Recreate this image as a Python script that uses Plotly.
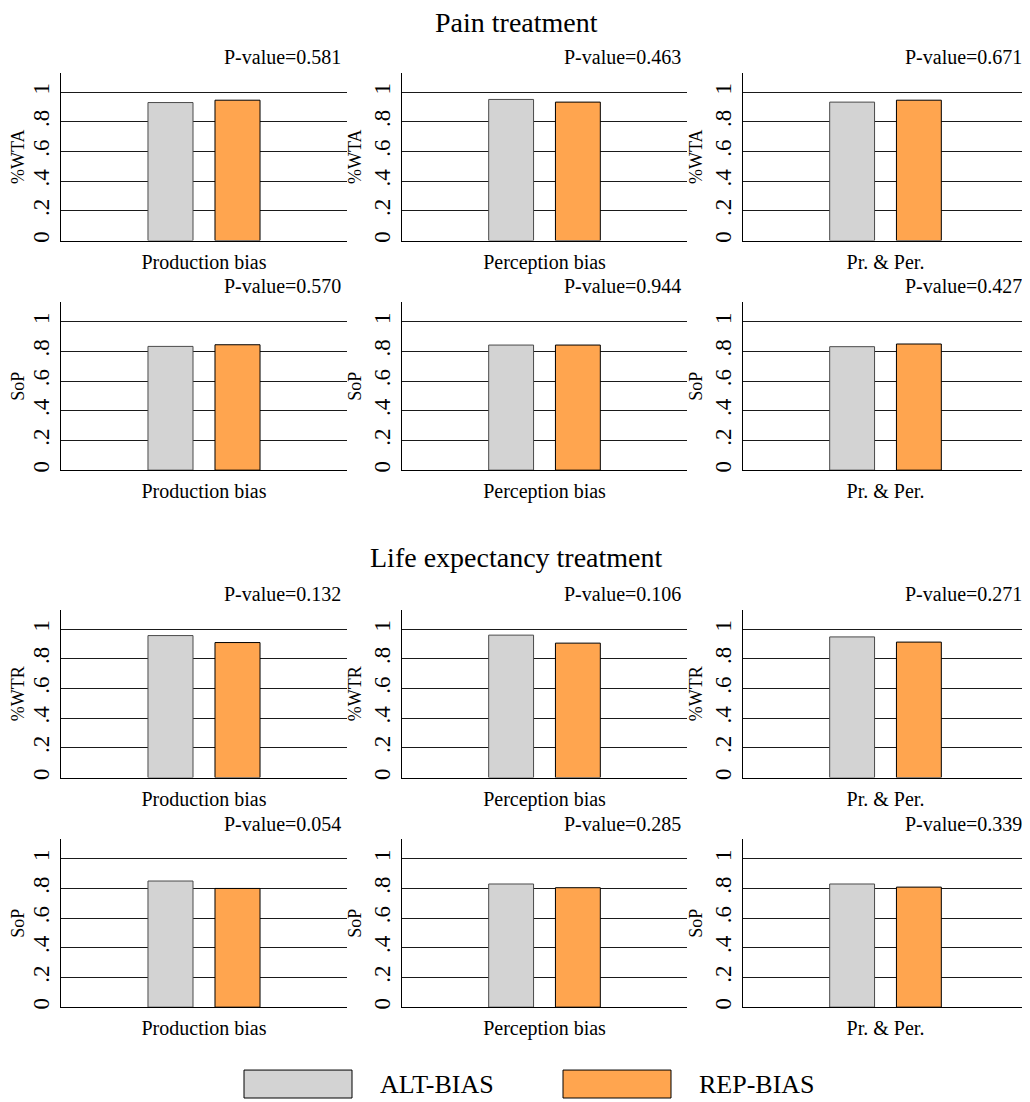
import plotly.graph_objects as go

# ---------------- data ----------------
groups = ["ALT-BIAS", "REP-BIAS"]
categories = ["Production bias", "Perception bias", "Pr. & Per."]
section_titles = ["Pain treatment", "Life expectancy treatment"]
row_measures = ["%WTA", "SoP", "%WTR", "SoP"]
alt_values = [
    [0.930, 0.951, 0.933],
    [0.834, 0.843, 0.832],
    [0.957, 0.960, 0.948],
    [0.850, 0.830, 0.830],
]
rep_values = [
    [0.946, 0.933, 0.946],
    [0.845, 0.843, 0.850],
    [0.910, 0.906, 0.913],
    [0.800, 0.805, 0.809],
]
p_values = [
    ["0.581", "0.463", "0.671"],
    ["0.570", "0.944", "0.427"],
    ["0.132", "0.106", "0.271"],
    ["0.054", "0.285", "0.339"],
]
y_tickvals = [0, 0.2, 0.4, 0.6, 0.8, 1]
y_ticktext = ["0", ".2", ".4", ".6", ".8", "1"]

# ---------------- styling / layout ----------------
OFF = 8  # page body margin
W, H = 1030 - OFF, 1102 - OFF
FONT = "Liberation Serif"
colors = ["#d3d3d3", "#ffa54f"]
outlines = ["#4a4a4a", "#000000"]
col_px = [(61, 347), (402, 687), (743, 1028)]
row_px = [(73, 241), (303, 471), (611, 779), (841, 1009)]
title_px = [23, 559]


def px_x(v):
    return (v - OFF) / W


def px_y(v):
    return 1 - (v - OFF) / H


fig = go.Figure()
layout = dict(
    width=W, height=H,
    margin=dict(l=0, r=0, t=0, b=0),
    paper_bgcolor="white", plot_bgcolor="white",
    barmode="group", bargap=0, bargroupgap=0.328,
    showlegend=False,
    font=dict(family=FONT, color="black"),
)
annotations = []
shapes = []

k = 0
for r in range(4):
    for c in range(3):
        k += 1
        xa = "x" if k == 1 else f"x{k}"
        ya = "y" if k == 1 else f"y{k}"
        for g, vals in enumerate([alt_values, rep_values]):
            fig.add_trace(go.Bar(
                x=[categories[c]], y=[vals[r][c]], name=groups[g],
                xaxis=xa, yaxis=ya,
                marker=dict(color=colors[g], line=dict(color=outlines[g], width=1)),
                hoverinfo="skip",
            ))
        l, rr = col_px[c]
        t, b = row_px[r]
        layout["xaxis" if k == 1 else f"xaxis{k}"] = dict(
            domain=[px_x(l), px_x(rr)], anchor=ya, type="category",
            range=[-1.067, 1.067], showline=True, linecolor="black", linewidth=1.3,
            showgrid=False, ticks="", tickfont=dict(size=20, family=FONT),
            ticklabelstandoff=3, fixedrange=True,
        )
        layout["yaxis" if k == 1 else f"yaxis{k}"] = dict(
            domain=[px_y(b), px_y(t)], anchor=xa, range=[0, 1.13],
            tickvals=y_tickvals, ticktext=y_ticktext, tickangle=-90,
            tickfont=dict(size=23, family=FONT), ticks="",
            ticklabelstandoff=2,
            showline=True, linecolor="black", linewidth=1,
            showgrid=True, gridcolor="#1a1a1a", gridwidth=1, zeroline=False,
            title=dict(text=row_measures[r], font=dict(size=18, family=FONT), standoff=3),
            fixedrange=True,
        )
        annotations.append(dict(
            text="P-value=" + p_values[r][c], xref="paper", yref="paper",
            x=px_x(rr - 4), y=px_y(t - 16), xanchor="right", yanchor="middle",
            showarrow=False, font=dict(size=20, family=FONT),
        ))

for i, st in enumerate(section_titles):
    annotations.append(dict(
        text=st, xref="paper", yref="paper", x=px_x(516), y=px_y(title_px[i]),
        xanchor="center", yanchor="middle", showarrow=False,
        font=dict(size=28, family=FONT),
    ))

# legend drawn as boxes + labels
legend_boxes = [(244, 352), (563, 671)]
legend_text_x = [378, 697]
for g in range(2):
    x0, x1 = legend_boxes[g]
    shapes.append(dict(
        type="rect", xref="paper", yref="paper",
        x0=px_x(x0), x1=px_x(x1), y0=px_y(1100), y1=px_y(1072),
        fillcolor=colors[g], line=dict(color="black", width=1),
    ))
    annotations.append(dict(
        text=groups[g], xref="paper", yref="paper",
        x=px_x(legend_text_x[g]), y=px_y(1086), xanchor="left", yanchor="middle",
        showarrow=False, font=dict(size=26, family=FONT),
    ))

layout["annotations"] = annotations
layout["shapes"] = shapes
fig.update_layout(**layout)
fig.write_html("out.html")
